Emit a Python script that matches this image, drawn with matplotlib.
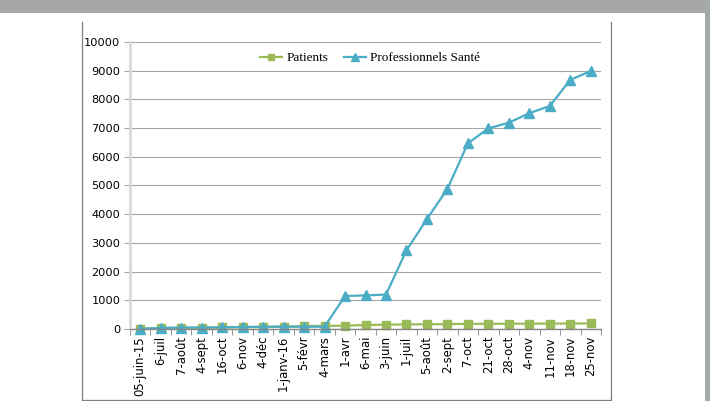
import matplotlib.pyplot as plt
from matplotlib.patches import Rectangle
import numpy as np

dates = ['05-juin-15', '6-juil', '7-août', '4-sept', '16-oct', '6-nov', '4-déc',
         '1-janv-16', '5-févr', '4-mars', '1-avr', '6-mai', '3-juin', '1-juil',
         '5-août', '2-sept', '7-oct', '21-oct', '28-oct', '4-nov', '11-nov',
         '18-nov', '25-nov']
patients = [10, 30, 40, 45, 55, 60, 70, 80, 100, 110, 115, 140, 150, 160,
            165, 170, 180, 180, 185, 185, 190, 190, 195]
professionnels = [0, 40, 50, 50, 60, 70, 80, 80, 80, 80, 1150, 1170, 1200,
                  2740, 3830, 4880, 6470, 6990, 7190, 7520, 7770, 8680, 8990]

W, H = 710, 401
fig = plt.figure(figsize=(W / 100, H / 100), dpi=100)

# page decoration in pixel coordinates
bg = fig.add_axes([0, 0, 1, 1], zorder=0)
bg.set_xlim(0, W)
bg.set_ylim(H, 0)
bg.axis('off')
bg.add_patch(Rectangle((0, 0), W, 13, color='#a6a6a6', lw=0))
bg.add_patch(Rectangle((705, 0), 5, H, color='#a3aaa8', lw=0))
bg.plot([81.5, 81.5], [22, 399.5], color='#7f7f7f', lw=0.9)
bg.plot([610.5, 610.5], [22, 399.5], color='#7f7f7f', lw=0.9)
bg.plot([81.5, 610.5], [399.5, 399.5], color='#7f7f7f', lw=0.9)

ax = fig.add_axes([130 / W, (H - 329) / H, 471 / W, 287 / H], zorder=1)
ax.patch.set_alpha(0)
x = np.arange(len(dates))

ax.plot(x, patients, color='#9bbb59', lw=1.6, marker='s', markersize=6,
        label='Patients', clip_on=False)
ax.plot(x, professionnels, color='#4bacc6', lw=1.6, marker='^', markersize=6.5,
        label='Professionnels Santé', clip_on=False)

ax.set_xlim(-0.5, len(dates) - 0.5)
ax.set_ylim(0, 10000)
ax.set_yticks(np.arange(0, 10001, 1000))
ax.grid(axis='y', color='#a6a6a6', lw=0.8)
ax.set_axisbelow(True)

ax.set_xticks(x)
ax.set_xticklabels(dates, rotation=90, fontsize=8.4, family='DejaVu Sans')
ax.set_xticks(np.arange(-0.5, len(dates)), minor=True)
ax.tick_params(axis='x', which='major', length=0, pad=5)
ax.tick_params(axis='x', which='minor', length=4, color='#868686')
ax.tick_params(axis='y', length=4, color='#a6a6a6', labelsize=8.2, pad=3)

for s in ['top', 'right']:
    ax.spines[s].set_visible(False)
ax.spines['left'].set_color('#d9d9d9')
ax.spines['left'].set_linewidth(2)
ax.spines['bottom'].set_color('#868686')
ax.spines['bottom'].set_linewidth(1)

ax.legend(loc='center', bbox_to_anchor=(0.51, 0.944), ncol=2, frameon=False,
          prop={'family': 'Liberation Serif', 'size': 9.5}, handlelength=1.7,
          handletextpad=0.3, columnspacing=1.2, markerscale=0.8)

fig.savefig('out.png', dpi=100)
